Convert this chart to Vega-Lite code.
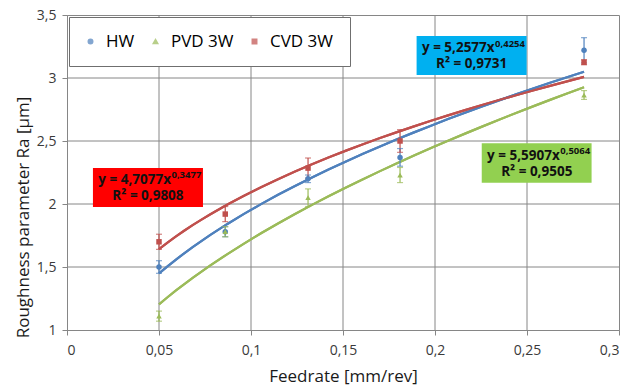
{
  "$schema": "https://vega.github.io/schema/vega-lite/v6.json",
  "width": 552,
  "height": 315,
  "autosize": {"type": "none"},
  "padding": {"left": 67, "top": 15, "right": 13, "bottom": 57},
  "background": "white",
  "config": {
    "font": "Open Sans",
    "view": {"stroke": "#868686", "strokeWidth": 1},
    "axis": {
      "grid": false,
      "domainColor": "#868686",
      "tickColor": "#868686",
      "tickSize": 5,
      "labelFont": "Open Sans",
      "labelFontSize": 14,
      "labelColor": "#3a3a3a",
      "titleFont": "Open Sans",
      "titleFontSize": 17,
      "titleFontWeight": "normal",
      "titleColor": "#1a1a1a"
    },
    "legend": {"orient": "none", "legendX": 2, "legendY": 2, "direction": "horizontal", "fillColor": "white", "strokeColor": "#6f6f6f", "padding": 16, "labelFontSize": 17, "labelFont": "Open Sans", "labelColor": "#000000", "symbolSize": 20, "symbolOffset": -3, "columnPadding": 15, "gridAlign": "none", "labelOffset": 7}
  },
  "datasets": {
    "pts": [
      {"series": "HW", "x": 0.05, "y": 1.50, "lo": 1.45, "hi": 1.55},
      {"series": "HW", "x": 0.086, "y": 1.78, "lo": 1.74, "hi": 1.82},
      {"series": "HW", "x": 0.131, "y": 2.20, "lo": 2.17, "hi": 2.23},
      {"series": "HW", "x": 0.181, "y": 2.37, "lo": 2.30, "hi": 2.44},
      {"series": "HW", "x": 0.281, "y": 3.22, "lo": 3.12, "hi": 3.32},
      {"series": "PVD 3W", "x": 0.05, "y": 1.11, "lo": 1.07, "hi": 1.15},
      {"series": "PVD 3W", "x": 0.086, "y": 1.78, "lo": 1.74, "hi": 1.82},
      {"series": "PVD 3W", "x": 0.131, "y": 2.05, "lo": 1.98, "hi": 2.12},
      {"series": "PVD 3W", "x": 0.181, "y": 2.23, "lo": 2.17, "hi": 2.29},
      {"series": "PVD 3W", "x": 0.281, "y": 2.865, "lo": 2.83, "hi": 2.90},
      {"series": "CVD 3W", "x": 0.05, "y": 1.70, "lo": 1.64, "hi": 1.76},
      {"series": "CVD 3W", "x": 0.086, "y": 1.92, "lo": 1.86, "hi": 1.98},
      {"series": "CVD 3W", "x": 0.131, "y": 2.285, "lo": 2.205, "hi": 2.365},
      {"series": "CVD 3W", "x": 0.181, "y": 2.50, "lo": 2.41, "hi": 2.59},
      {"series": "CVD 3W", "x": 0.281, "y": 3.125, "lo": 3.105, "hi": 3.145}
    ],
    "gridx": [{"g": 0.05}, {"g": 0.1}, {"g": 0.15}, {"g": 0.2}, {"g": 0.25}],
    "gridy": [{"g": 1.5}, {"g": 2}, {"g": 2.5}, {"g": 3}],
    "notes": [
      {"series": "HW", "x1": 0.19, "x2": 0.2498, "y1": 3.024, "y2": 3.333, "cx": 0.2199, "cy": 3.178, "eq": "y = 5,2577x", "ex": "0,4254", "r2": "R² = 0,9731"},
      {"series": "PVD 3W", "x1": 0.2254, "x2": 0.2851, "y1": 2.169, "y2": 2.482, "cx": 0.2553, "cy": 2.325, "eq": "y = 5,5907x", "ex": "0,5064", "r2": "R² = 0,9505"},
      {"series": "CVD 3W", "x1": 0.0141, "x2": 0.0739, "y1": 1.976, "y2": 2.286, "cx": 0.044, "cy": 2.131, "eq": "y = 4,7077x", "ex": "0,3477", "r2": "R² = 0,9808"}
    ]
  },
  "layer": [
    {
      "data": {"name": "pts"},
      "transform": [{"regression": "y", "on": "x", "groupby": ["series"], "method": "pow"}],
      "mark": {"type": "line", "strokeWidth": 2.2},
      "encoding": {
        "x": {"field": "x", "type": "quantitative", "title": "Feedrate [mm/rev]", "scale": {"domain": [0, 0.3], "nice": false, "zero": false},
          "axis": {"grid": false, "values": [0, 0.05, 0.1, 0.15, 0.2, 0.25, 0.3], "format": ".2~f", "labelExpr": "replace(datum.label, '.', ',')", "labelPadding": 8, "titleY": 46, "titleBaseline": "middle"}},
        "y": {"field": "y", "type": "quantitative", "title": "Roughness parameter Ra [µm]", "scale": {"domain": [1, 3.5], "nice": false, "zero": false},
          "axis": {"grid": false, "values": [1, 1.5, 2, 2.5, 3, 3.5], "format": ".1~f", "labelExpr": "replace(datum.label, '.', ',')", "labelPadding": 6, "titleX": -44, "titleY": 202, "titleAngle": -90, "titleAlign": "center", "titleBaseline": "middle"}},
        "color": {"field": "series", "type": "nominal", "title": null, "scale": {"domain": ["HW", "PVD 3W", "CVD 3W"], "range": ["#4F81BD", "#9BBB59", "#C0504D"]}}
      }
    },
    {
      "data": {"name": "gridx"},
      "mark": {"type": "rule", "color": "#868686", "strokeWidth": 1},
      "encoding": {
        "x": {"field": "g", "type": "quantitative", "title": "Feedrate [mm/rev]", "scale": {"domain": [0, 0.3], "nice": false, "zero": false}}
      }
    },
    {
      "data": {"name": "gridy"},
      "mark": {"type": "rule", "color": "#868686", "strokeWidth": 1},
      "encoding": {
        "y": {"field": "g", "type": "quantitative", "title": "Roughness parameter Ra [µm]", "scale": {"domain": [1, 3.5], "nice": false, "zero": false}}
      }
    },
    {
      "data": {"name": "pts"},
      "transform": [{"regression": "y", "on": "x", "groupby": ["series"], "method": "pow"}],
      "mark": {"type": "line", "strokeWidth": 2.2},
      "encoding": {
        "x": {"field": "x", "type": "quantitative", "title": "Feedrate [mm/rev]"},
        "y": {"field": "y", "type": "quantitative", "title": "Roughness parameter Ra [µm]"},
        "color": {"field": "series", "type": "nominal", "title": null}
      }
    },
    {
      "data": {"name": "pts"},
      "mark": {"type": "rule", "strokeWidth": 1.2},
      "encoding": {
        "x": {"field": "x", "type": "quantitative", "title": "Feedrate [mm/rev]"},
        "y": {"field": "lo", "type": "quantitative", "title": "Roughness parameter Ra [µm]"},
        "y2": {"field": "hi"},
        "color": {"field": "series", "type": "nominal", "title": null}
      }
    },
    {
      "data": {"name": "pts"},
      "mark": {"type": "tick", "orient": "horizontal", "size": 6, "thickness": 1.2},
      "encoding": {
        "x": {"field": "x", "type": "quantitative", "title": "Feedrate [mm/rev]"},
        "y": {"field": "lo", "type": "quantitative", "title": "Roughness parameter Ra [µm]"},
        "color": {"field": "series", "type": "nominal", "title": null}
      }
    },
    {
      "data": {"name": "pts"},
      "mark": {"type": "tick", "orient": "horizontal", "size": 6, "thickness": 1.2},
      "encoding": {
        "x": {"field": "x", "type": "quantitative", "title": "Feedrate [mm/rev]"},
        "y": {"field": "hi", "type": "quantitative", "title": "Roughness parameter Ra [µm]"},
        "color": {"field": "series", "type": "nominal", "title": null}
      }
    },
    {
      "data": {"name": "pts"},
      "mark": {"type": "point", "filled": true, "opacity": 1, "size": 30},
      "encoding": {
        "x": {"field": "x", "type": "quantitative", "title": "Feedrate [mm/rev]"},
        "y": {"field": "y", "type": "quantitative", "title": "Roughness parameter Ra [µm]"},
        "color": {"field": "series", "type": "nominal", "title": null},
        "shape": {"field": "series", "type": "nominal", "title": null, "scale": {"domain": ["HW", "PVD 3W", "CVD 3W"], "range": ["circle", "triangle-up", "square"]}}
      }
    },
    {
      "data": {"name": "notes"},
      "mark": {"type": "rect"},
      "encoding": {
        "x": {"field": "x1", "type": "quantitative", "title": "Feedrate [mm/rev]"},
        "x2": {"field": "x2"},
        "y": {"field": "y1", "type": "quantitative", "title": "Roughness parameter Ra [µm]"},
        "y2": {"field": "y2"},
        "fill": {"field": "series", "type": "nominal", "scale": {"domain": ["HW", "PVD 3W", "CVD 3W"], "range": ["#00B0F0", "#92D050", "#FF0000"]}, "legend": null}
      }
    },
    {
      "data": {"name": "notes"},
      "mark": {"type": "text", "align": "right", "baseline": "middle", "dx": 23, "dy": -7.5, "fontSize": 13.5, "fontWeight": "bold", "font": "Open Sans", "color": "#111111"},
      "encoding": {
        "x": {"field": "cx", "type": "quantitative", "title": "Feedrate [mm/rev]"},
        "y": {"field": "cy", "type": "quantitative", "title": "Roughness parameter Ra [µm]"},
        "text": {"field": "eq"}
      }
    },
    {
      "data": {"name": "notes"},
      "mark": {"type": "text", "align": "left", "baseline": "middle", "dx": 23.5, "dy": -12, "fontSize": 9.5, "fontWeight": "bold", "font": "Open Sans", "color": "#111111"},
      "encoding": {
        "x": {"field": "cx", "type": "quantitative", "title": "Feedrate [mm/rev]"},
        "y": {"field": "cy", "type": "quantitative", "title": "Roughness parameter Ra [µm]"},
        "text": {"field": "ex"}
      }
    },
    {
      "data": {"name": "notes"},
      "mark": {"type": "text", "align": "center", "baseline": "middle", "dy": 8.5, "fontSize": 13.5, "fontWeight": "bold", "font": "Open Sans", "color": "#111111"},
      "encoding": {
        "x": {"field": "cx", "type": "quantitative", "title": "Feedrate [mm/rev]"},
        "y": {"field": "cy", "type": "quantitative", "title": "Roughness parameter Ra [µm]"},
        "text": {"field": "r2"}
      }
    }
  ],
  "resolve": {"scale": {"fill": "independent"}}
}
